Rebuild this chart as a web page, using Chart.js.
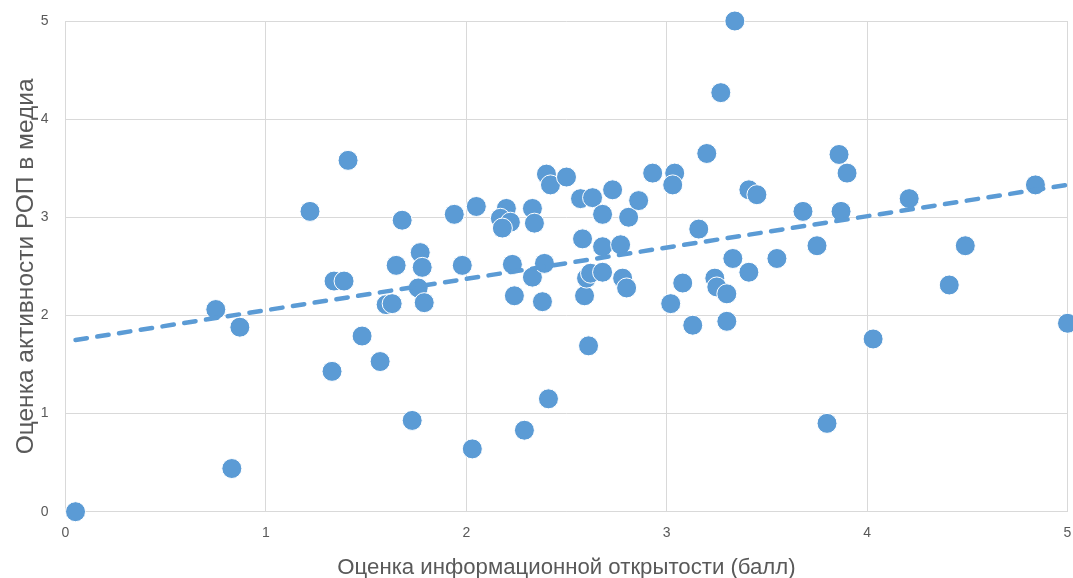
<!DOCTYPE html>
<html>
<head>
<meta charset="utf-8">
<script src="https://cdn.jsdelivr.net/npm/chart.js@4.4.1/dist/chart.umd.min.js"></script>
<style>
html,body{margin:0;padding:0;background:#fff;}
#wrap{position:relative;width:1073px;height:578px;}
</style>
</head>
<body>
<div id="wrap"><canvas id="c" width="1073" height="578"></canvas></div>
<script>
// Data
const xValues = [0.05,0.75,0.87,0.83,1.22,1.41,1.34,1.39,1.33,1.48,1.57,1.73,1.60,1.63,1.65,1.68,1.77,1.78,1.76,1.79,
  1.94,1.98,2.03,2.05,2.20,2.17,2.22,2.18,2.23,2.24,2.29,2.33,2.34,2.33,2.38,2.39,2.40,2.42,2.41,2.50,
  2.57,2.63,2.58,2.59,2.60,2.62,2.61,2.68,2.68,2.68,2.73,2.77,2.78,2.80,2.81,2.86,2.93,3.04,3.03,3.02,
  3.08,3.13,3.16,3.20,3.24,3.25,3.27,3.30,3.30,3.33,3.34,3.41,3.45,3.41,3.55,3.68,3.75,3.80,3.86,3.90,
  3.87,4.03,4.21,4.41,4.49,4.84,5.00];
const yValues = [0.00,2.06,1.88,0.44,3.06,3.58,2.35,2.35,1.43,1.79,1.53,0.93,2.11,2.12,2.51,2.97,2.64,2.49,2.28,2.13,
  3.03,2.51,0.64,3.11,3.09,2.99,2.95,2.89,2.52,2.20,0.83,3.09,2.94,2.39,2.14,2.53,3.44,3.33,1.15,3.41,
  3.19,3.20,2.78,2.20,2.38,2.43,1.69,3.03,2.70,2.44,3.28,2.72,2.38,2.28,3.00,3.17,3.45,3.45,3.33,2.12,
  2.33,1.90,2.88,3.65,2.38,2.29,4.27,2.22,1.94,2.58,5.00,3.28,3.23,2.44,2.58,3.06,2.71,0.90,3.64,3.45,
  3.06,1.76,3.19,2.31,2.71,3.33,1.92];
const trendX = [0.05, 5.0];
const trendY = [1.75, 3.33];
const xTicks = [0, 1, 2, 3, 4, 5];
const yTicks = [0, 1, 2, 3, 4, 5];
const xTitle = 'Оценка информационной открытости (балл)';
const yTitle = 'Оценка активности РОП в медиа';

const blue = '#5B9BD5';
const textGray = '#595959';
const gridGray = '#D9D9D9';

const points = xValues.map((x, i) => ({x: x, y: yValues[i]}));
const trend = trendX.map((x, i) => ({x: x, y: trendY[i]}));

new Chart(document.getElementById('c'), {
  type: 'scatter',
  data: {
    datasets: [
      {
        type: 'line',
        data: trend,
        order: 0,
        clip: false,
        borderColor: blue,
        borderWidth: 4.5,
        borderDash: [11.5, 10.5],
        borderCapStyle: 'round',
        pointRadius: 0,
        fill: false,
        tension: 0
      },
      {
        data: points,
        order: 1,
        clip: false,
        backgroundColor: blue,
        borderColor: '#ffffff',
        borderWidth: 1,
        pointRadius: 10,
        pointHoverRadius: 10
      }
    ]
  },
  options: {
    responsive: false,
    animation: false,
    devicePixelRatio: 1,
    layout: {autoPadding: false, padding: {left: 0, right: 5.5, top: 21, bottom: 0}},
    plugins: {legend: {display: false}, tooltip: {enabled: false}},
    scales: {
      x: {
        type: 'linear',
        min: 0, max: 5,
        afterBuildTicks: (s) => { s.ticks = xTicks.map(v => ({value: v})); },
        afterFit: (s) => { s.height = 66.3; s.paddingLeft = 0; s.paddingRight = 0; },
        grid: {color: gridGray, lineWidth: 1, drawTicks: false},
        border: {color: gridGray, width: 1},
        ticks: {color: textGray, padding: 13, font: {family: 'Liberation Sans', size: 14}},
        title: {display: true, text: xTitle, color: textGray, padding: {top: 0, bottom: -3},
          font: {family: 'Liberation Sans', size: 22.2}}
      },
      y: {
        type: 'linear',
        min: 0, max: 5,
        afterBuildTicks: (s) => { s.ticks = yTicks.map(v => ({value: v})); },
        afterFit: (s) => { s.width = 65.5; s.paddingTop = 0; s.paddingBottom = 0; },
        grid: {color: gridGray, lineWidth: 1, drawTicks: false},
        border: {color: gridGray, width: 1},
        ticks: {color: textGray, padding: 17, font: {family: 'Liberation Sans', size: 14}},
        title: {display: true, text: yTitle, color: textGray, padding: {top: 12, bottom: 0},
          font: {family: 'Liberation Sans', size: 24.5}}
      }
    }
  }
});
</script>
</body>
</html>
